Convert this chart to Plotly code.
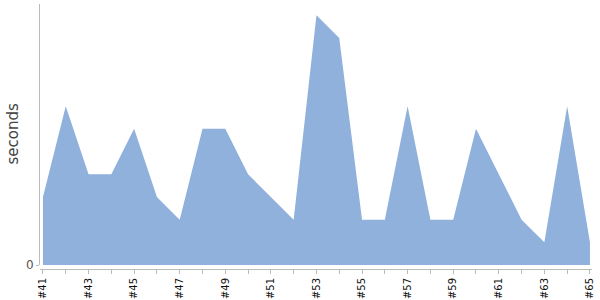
import plotly.graph_objects as go

categories = ["#%d" % n for n in range(41, 66)]
seconds = [3, 7, 4, 4, 6, 3, 2, 6, 6, 4, 3, 2, 11, 10, 2, 2, 7, 2, 2, 6, 4, 2, 1, 7, 1]
tick_text = [c if i % 2 == 0 else "" for i, c in enumerate(categories)]

fig = go.Figure()
fig.add_trace(go.Scatter(
    x=categories, y=seconds, mode="lines", fill="tozeroy",
    line=dict(width=0, color="#8FB1DB"), fillcolor="#8FB1DB",
    hoverinfo="x+y",
))

fig.update_layout(
    width=600, height=300,
    margin=dict(l=40, r=8, t=4, b=31),
    paper_bgcolor="white", plot_bgcolor="white",
    showlegend=False,
    font=dict(family="DejaVu Sans", color="#333"),
    xaxis=dict(
        type="category", range=[-0.13, 24.09],
        tickmode="array", tickvals=categories, ticktext=tick_text,
        tickangle=-90, tickfont=dict(size=10, color="#111"),
        ticks="outside", ticklen=4, tickcolor="#bbb",
        showline=True, linecolor="#bbb", linewidth=1,
        showgrid=False, zeroline=False,
        anchor="free", position=0, automargin=False,
    ),
    yaxis=dict(
        domain=[0.015, 1], range=[0, 11.5],
        tickmode="array", tickvals=[0], ticktext=["0"],
        tickfont=dict(size=12, color="#555"),
        ticks="outside", ticklen=3, tickcolor="#bbb",
        showline=True, linecolor="#bbb", linewidth=1,
        showgrid=False, zeroline=False, automargin=False,
    ),
    annotations=[dict(
        text="seconds", xref="paper", yref="paper", x=0, y=0.5075,
        xanchor="center", yanchor="middle", xshift=-27, textangle=-90,
        showarrow=False, font=dict(size=15, color="#444"),
    )],
)

fig.write_html("out.html")
